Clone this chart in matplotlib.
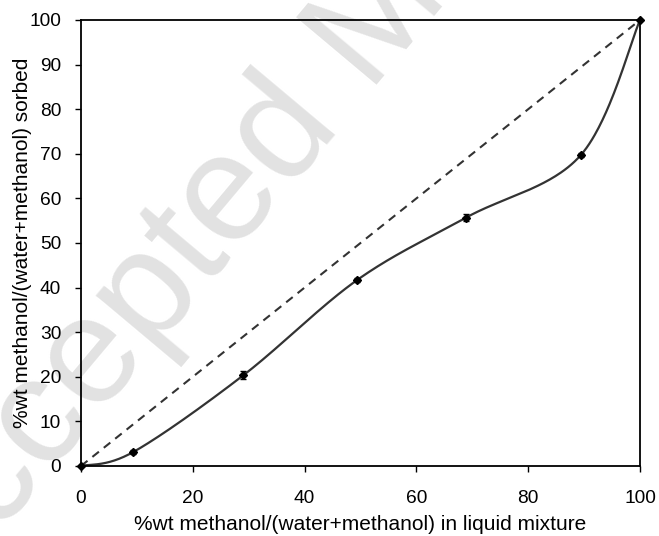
import numpy as np
import matplotlib
matplotlib.use("Agg")
import matplotlib.pyplot as plt

plt.rcParams["font.family"] = ["Liberation Sans", "DejaVu Sans"]

# methanol fraction in the liquid vs. fraction sorbed (wt %)
liquid_pct = [0.0, 9.3, 29.0, 49.4, 68.9, 89.4, 100.0]
sorbed_pct = [0.0, 3.1, 20.3, 41.7, 55.7, 69.7, 100.0]
sorbed_err = [0.0, 0.4, 0.9, 0.5, 0.8, 0.5, 0.0]
diag = [0, 100]


def smooth_curve(x, y, n=60):
    # bezier smoothing through every point (spreadsheet-style smoothed line)
    p = np.column_stack([x, y])
    pts = np.vstack([p[0], p, p[-1]])
    out = []
    for i in range(1, len(pts) - 2):
        p0, p1, p2, p3 = pts[i - 1], pts[i], pts[i + 1], pts[i + 2]
        c1 = p1 + (p2 - p0) / 6.0
        c2 = p2 - (p3 - p1) / 6.0
        t = np.linspace(0, 1, n)[:, None]
        seg = ((1 - t) ** 3) * p1 + 3 * ((1 - t) ** 2) * t * c1 \
            + 3 * (1 - t) * t ** 2 * c2 + t ** 3 * p2
        out.append(seg if i == 1 else seg[1:])
    out = np.vstack(out)
    return out[:, 0], out[:, 1]


fig = plt.figure(figsize=(6.59, 5.36), dpi=100)
ax = fig.add_axes([0.1229, 0.1306, 0.8483, 0.8321])
ax.set_zorder(1)
ax.set_facecolor("none")

# watermark behind the plot
fig.text(-0.102, -0.146, "Accepted Manuscript", fontsize=110, color="#e2e2e2",
         rotation=50, rotation_mode="anchor", ha="left", va="baseline", zorder=0)

ax.plot(diag, diag, linestyle=(0, (4, 3)), color="#333333", linewidth=1.5)

sx, sy = smooth_curve(liquid_pct, sorbed_pct)
ax.plot(sx, sy, color="#333333", linewidth=1.6)
ax.errorbar(liquid_pct, sorbed_pct, yerr=sorbed_err, fmt="D", color="black",
            markersize=4, capsize=2, elinewidth=1, clip_on=False, zorder=3)

ax.set_xlim(0, 100)
ax.set_ylim(0, 100)
ax.set_xticks(range(0, 101, 20))
ax.set_yticks(range(0, 101, 10))
ax.tick_params(axis="x", direction="out", length=4.3, width=1, pad=13, labelsize=13.8)
ax.tick_params(axis="y", direction="out", length=4.3, width=1, pad=10, labelsize=13.8)
for s in ax.spines.values():
    s.set_linewidth(1.3)

ax.set_xlabel("%wt methanol/(water+methanol) in liquid mixture", fontsize=15, labelpad=6)
ax.set_ylabel("%wt methanol/(water+methanol) sorbed", fontsize=15, labelpad=-2)

fig.savefig("out.png", dpi=100)
